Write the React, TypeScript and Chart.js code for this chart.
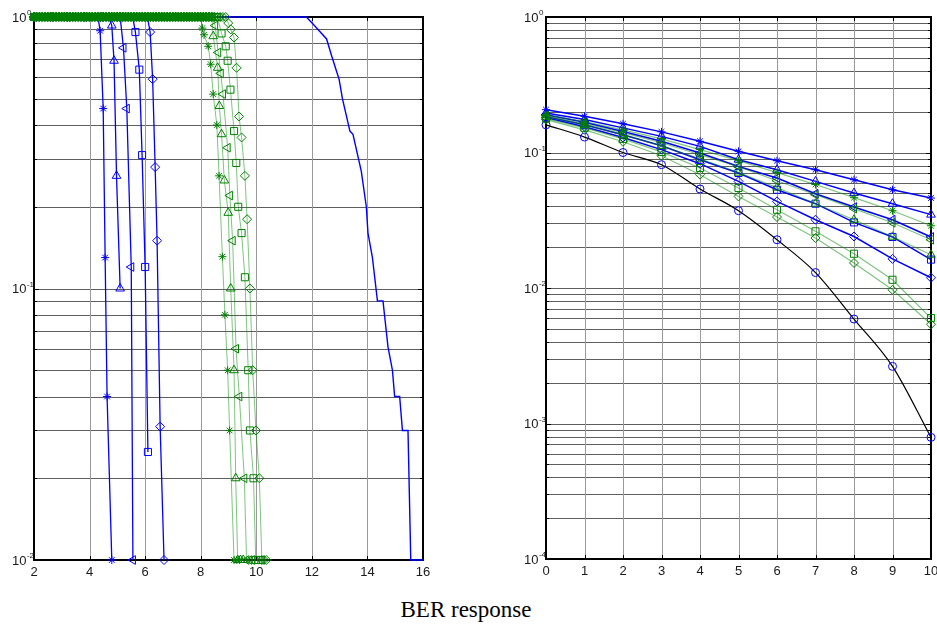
import React, { useEffect, useRef } from "react";
import { Chart, registerables } from "chart.js";

Chart.register(...registerables);

// ---------------- LEFT PANEL DATA ----------------
const leftXTicks = [2, 4, 6, 8, 10, 12, 14, 16];
const leftXLabels = ["2", "4", "6", "8", "10", "12", "14", "16"];
const leftYGrid = [0.01, 0.02, 0.03, 0.04, 0.05, 0.06, 0.07, 0.08, 0.09, 0.1, 0.2, 0.3, 0.4, 0.5, 0.6, 0.7, 0.8, 0.9, 1];
const leftDecades = [1, 0.1, 0.01];
const leftExps = ["0", "-1", "-2"];

// saturated (BER = 1) sampling shared by the green curves
const leftFlatSnr = [
  2.0, 2.1, 2.2, 2.3, 2.4, 2.5, 2.6, 2.7, 2.8, 2.9,
  3.0, 3.1, 3.2, 3.3, 3.4, 3.5, 3.6, 3.7, 3.8, 3.9,
  4.0, 4.1, 4.2, 4.3, 4.4, 4.5, 4.6, 4.7, 4.8, 4.9,
  5.0, 5.1, 5.2, 5.3, 5.4, 5.5, 5.6, 5.7, 5.8, 5.9,
  6.0, 6.1, 6.2, 6.3, 6.4, 6.5, 6.6, 6.7, 6.8, 6.9,
  7.0, 7.1, 7.2, 7.3, 7.4, 7.5, 7.6, 7.7, 7.8, 7.9,
];
const leftFlatBer = [
  1, 1, 1, 1, 1, 1, 1, 1, 1, 1,
  1, 1, 1, 1, 1, 1, 1, 1, 1, 1,
  1, 1, 1, 1, 1, 1, 1, 1, 1, 1,
  1, 1, 1, 1, 1, 1, 1, 1, 1, 1,
  1, 1, 1, 1, 1, 1, 1, 1, 1, 1,
  1, 1, 1, 1, 1, 1, 1, 1, 1, 1,
];

const gStarSnr = [8.0, 8.06, 8.12, 8.27, 8.36, 8.45, 8.58, 8.66, 8.78, 8.87, 8.97, 9.04, 9.2, 9.3, 9.4];
const gStarBer = [1, 0.91, 0.86, 0.78, 0.67, 0.52, 0.4, 0.26, 0.131, 0.08, 0.05, 0.03, 0.01, 0.01, 0.01];
const gTriSnr = [8.0, 8.1, 8.2, 8.3, 8.4, 8.45, 8.61, 8.67, 8.75, 8.85, 8.99, 9.08, 9.2, 9.26, 9.33, 9.43, 9.53];
const gTriBer = [1, 1, 1, 1, 1, 0.85, 0.65, 0.47, 0.37, 0.25, 0.19, 0.1, 0.05, 0.02, 0.01, 0.01, 0.01];
const gLeftSnr = [8.0, 8.1, 8.2, 8.3, 8.4, 8.52, 8.63, 8.72, 8.8, 8.97, 9.05, 9.15, 9.27, 9.39, 9.57, 9.65, 9.75, 9.85];
const gLeftBer = [1, 1, 1, 1, 1, 0.93, 0.74, 0.62, 0.52, 0.33, 0.22, 0.15, 0.06, 0.04, 0.02, 0.01, 0.01, 0.01];
const gSqSnr = [8.0, 8.1, 8.2, 8.3, 8.4, 8.5, 8.6, 8.75, 8.9, 8.97, 9.07, 9.2, 9.28, 9.35, 9.47, 9.59, 9.71, 9.77, 9.9, 9.98, 10.08, 10.18];
const gSqBer = [1, 1, 1, 1, 1, 1, 1, 0.87, 0.78, 0.69, 0.54, 0.38, 0.29, 0.2, 0.16, 0.11, 0.05, 0.03, 0.02, 0.01, 0.01, 0.01];
const gDiaSnr = [8.0, 8.1, 8.2, 8.3, 8.4, 8.5, 8.6, 8.7, 8.8, 8.9, 8.99, 9.08, 9.2, 9.29, 9.38, 9.47, 9.59, 9.67, 9.77, 9.87, 9.99, 10.11, 10.2, 10.28, 10.36];
const gDiaBer = [1, 1, 1, 1, 1, 1, 1, 1, 1, 1, 0.95, 0.9, 0.84, 0.65, 0.43, 0.36, 0.26, 0.18, 0.1, 0.05, 0.03, 0.02, 0.01, 0.01, 0.01];

const bStarSnr = [2, 2.6, 3.2, 3.8, 4.3, 4.38, 4.49, 4.56, 4.63, 4.8];
const bStarBer = [1, 1, 1, 1, 1, 0.89, 0.46, 0.13, 0.04, 0.01];
const bTriSnr = [2, 2.6, 3.2, 3.8, 4.4, 4.7, 4.8, 4.88, 4.97, 5.1];
const bTriBer = [1, 1, 1, 1, 1, 1, 0.93, 0.69, 0.26, 0.1];
const bLeftSnr = [2, 2.6, 3.2, 3.8, 4.4, 5.0, 5.1, 5.22, 5.34, 5.5, 5.56];
const bLeftBer = [1, 1, 1, 1, 1, 1, 1, 0.77, 0.46, 0.12, 0.01];
const bSqSnr = [2, 2.6, 3.2, 3.8, 4.4, 5.0, 5.55, 5.65, 5.79, 5.89, 6.0, 6.1];
const bSqBer = [1, 1, 1, 1, 1, 1, 1, 0.88, 0.64, 0.31, 0.12, 0.025];
const bDiaSnr = [2, 2.6, 3.2, 3.8, 4.4, 5.0, 5.6, 6.08, 6.18, 6.27, 6.36, 6.43, 6.54, 6.68];
const bDiaBer = [1, 1, 1, 1, 1, 1, 1, 1, 0.88, 0.59, 0.28, 0.15, 0.031, 0.01];

const bLineSnr = [2, 11.8, 12.05, 12.53, 12.71, 12.98, 13.1, 13.37, 13.48, 13.78, 13.96, 14.02, 14.18, 14.36, 14.56, 14.74, 14.9, 14.98, 15.16, 15.26, 15.46, 15.56, 16];
const bLineBer = [1, 1, 0.94, 0.83, 0.72, 0.59, 0.5, 0.38, 0.37, 0.27, 0.2, 0.16, 0.13, 0.09, 0.09, 0.061, 0.05, 0.04, 0.04, 0.03, 0.03, 0.01, 0.01];

// ---------------- RIGHT PANEL DATA ----------------
const rightXTicks = [0, 1, 2, 3, 4, 5, 6, 7, 8, 9, 10];
const rightXLabels = ["0", "1", "2", "3", "4", "5", "6", "7", "8", "9", "10"];
const rightYGrid = [
  0.0001, 0.0002, 0.0003, 0.0004, 0.0005, 0.0006, 0.0007, 0.0008, 0.0009,
  0.001, 0.002, 0.003, 0.004, 0.005, 0.006, 0.007, 0.008, 0.009,
  0.01, 0.02, 0.03, 0.04, 0.05, 0.06, 0.07, 0.08, 0.09,
  0.1, 0.2, 0.3, 0.4, 0.5, 0.6, 0.7, 0.8, 0.9, 1,
];
const rightDecades = [1, 0.1, 0.01, 0.001, 0.0001];
const rightExps = ["0", "-1", "-2", "-3", "-4"];

const snrRight = [0, 1, 2, 3, 4, 5, 6, 7, 8, 9, 10];
const rBlueStar = [0.207, 0.185, 0.163, 0.142, 0.121, 0.102, 0.087, 0.0746, 0.063, 0.0531, 0.0461];
const rBlueTri = [0.196, 0.175, 0.152, 0.1315, 0.111, 0.0885, 0.0746, 0.0612, 0.0502, 0.0419, 0.0348];
const rBlueLeft = [0.19, 0.167, 0.143, 0.121, 0.0992, 0.0789, 0.0648, 0.0496, 0.0396, 0.0319, 0.0238];
const rBlueSq = [0.184, 0.16, 0.135, 0.112, 0.0885, 0.0706, 0.0531, 0.0419, 0.0305, 0.0238, 0.0162];
const rBlueDia = [0.181, 0.155, 0.129, 0.105, 0.0827, 0.0612, 0.0436, 0.0319, 0.024, 0.0164, 0.0119];
const rGreenStar = [0.19, 0.169, 0.147, 0.126, 0.105, 0.087, 0.071, 0.058, 0.0464, 0.0372, 0.0288];
const rGreenTri = [0.184, 0.16, 0.135, 0.112, 0.09, 0.071, 0.055, 0.0419, 0.0319, 0.0239, 0.0176];
const rGreenLeft = [0.187, 0.163, 0.14, 0.118, 0.0963, 0.0785, 0.0619, 0.0488, 0.0385, 0.0303, 0.0227];
const rGreenSq = [0.178, 0.152, 0.126, 0.101, 0.0768, 0.0547, 0.0378, 0.0262, 0.0179, 0.0115, 0.006];
const rGreenDia = [0.175, 0.147, 0.12, 0.0947, 0.0686, 0.0474, 0.0334, 0.0234, 0.0153, 0.0097, 0.0054];
const rTheory = [0.16, 0.13, 0.1, 0.0813, 0.0538, 0.0372, 0.0227, 0.013, 0.0059, 0.00264, 0.00079];

// ---------------- helpers ----------------
const BLUE = "#0000ff";
const GREEN = "#008000";
const GREEN_LINE = "rgba(0,140,0,0.5)";
const FONT = '"Liberation Sans", Arial, Helvetica, sans-serif';

const pts = (xs: number[], ys: number[]) => xs.map((x, i) => ({ x, y: ys[i] }));

function series(
  xs: number[],
  ys: number[],
  style: any,
  markerColor: string,
  lineColor: string,
  lineWidth: number,
  radius: number,
  rotation = 0
) {
  return {
    data: pts(xs, ys),
    showLine: true,
    borderColor: lineColor,
    borderWidth: lineWidth,
    pointStyle: style,
    pointRadius: radius,
    pointRotation: rotation,
    pointBorderColor: markerColor,
    pointBackgroundColor: "rgba(0,0,0,0)",
    pointBorderWidth: 1,
    fill: false,
    tension: 0,
    clip: 8,
  };
}

function axesPlugin(cfg: {
  xTicks: number[];
  xLabels: string[];
  yGrid: number[];
  decades: number[];
  exps: string[];
}) {
  return {
    id: "matlabAxes",
    beforeDatasetsDraw(chart: any) {
      const { ctx, chartArea: a } = chart;
      const xs = chart.scales.x;
      const ys = chart.scales.y;
      const L = Math.round(a.left);
      const R = Math.round(a.right);
      const T = Math.round(a.top);
      const B = Math.round(a.bottom);
      ctx.save();
      ctx.lineWidth = 1;
      // horizontal grid
      ctx.strokeStyle = "#5e5e5e";
      ctx.beginPath();
      for (const v of cfg.yGrid) {
        const y = Math.round(ys.getPixelForValue(v)) + 0.5;
        ctx.moveTo(L, y);
        ctx.lineTo(R, y);
      }
      ctx.stroke();
      // vertical grid
      ctx.strokeStyle = "#9a9a9a";
      ctx.beginPath();
      for (const v of cfg.xTicks) {
        const x = Math.round(xs.getPixelForValue(v)) + 0.5;
        ctx.moveTo(x, T);
        ctx.lineTo(x, B);
      }
      ctx.stroke();
      // inward ticks
      ctx.strokeStyle = "#000";
      ctx.beginPath();
      for (const v of cfg.xTicks) {
        const x = Math.round(xs.getPixelForValue(v)) + 0.5;
        ctx.moveTo(x, B);
        ctx.lineTo(x, B - 4);
        ctx.moveTo(x, T);
        ctx.lineTo(x, T + 4);
      }
      for (const v of cfg.yGrid) {
        const y = Math.round(ys.getPixelForValue(v)) + 0.5;
        const len = cfg.decades.indexOf(v) >= 0 ? 5 : 3;
        ctx.moveTo(L, y);
        ctx.lineTo(L + len, y);
        ctx.moveTo(R, y);
        ctx.lineTo(R - len, y);
      }
      ctx.stroke();
      // box
      ctx.lineWidth = 2;
      ctx.strokeRect(L, T, R - L, B - T);
      // x labels
      ctx.fillStyle = "#1a1a1a";
      ctx.font = "13px " + FONT;
      ctx.textAlign = "center";
      ctx.textBaseline = "middle";
      cfg.xTicks.forEach((v, i) => {
        ctx.fillText(cfg.xLabels[i], xs.getPixelForValue(v), B + 12);
      });
      // y decade labels 10^n
      ctx.textAlign = "left";
      cfg.decades.forEach((v, i) => {
        const y = ys.getPixelForValue(v);
        const x0 = L - 22;
        ctx.font = "13px " + FONT;
        ctx.fillText("10", x0, y + 1);
        const w = ctx.measureText("10").width;
        ctx.font = "8px " + FONT;
        ctx.fillText(cfg.exps[i], x0 + w + 0.5, y - 4);
      });
      ctx.restore();
    },
  };
}

function baseOptions(
  xmin: number,
  xmax: number,
  ymin: number,
  ymax: number,
  yWidth: number,
  xHeight: number,
  padRight: number,
  padTop: number
): any {
  return {
    responsive: false,
    maintainAspectRatio: false,
    animation: false,
    events: [],
    layout: { padding: { left: 0, right: padRight, top: padTop, bottom: 0 } },
    plugins: { legend: { display: false }, tooltip: { enabled: false } },
    scales: {
      x: {
        type: "linear",
        min: xmin,
        max: xmax,
        grid: { display: false },
        border: { display: false },
        ticks: { display: false },
        afterFit: (s: any) => {
          s.height = xHeight;
        },
      },
      y: {
        type: "logarithmic",
        min: ymin,
        max: ymax,
        grid: { display: false },
        border: { display: false },
        ticks: { display: false },
        afterFit: (s: any) => {
          s.width = yWidth;
        },
      },
    },
  };
}

function leftConfig(): any {
  const g = (xs: number[], ys: number[], st: any, rad: number, rot = 0) =>
    series([...leftFlatSnr, ...xs], [...leftFlatBer, ...ys], st, GREEN, GREEN_LINE, 1, rad, rot);
  const b = (xs: number[], ys: number[], st: any, rad: number, rot = 0) =>
    series(xs, ys, st, BLUE, BLUE, 1.3, rad, rot);
  return {
    type: "line",
    data: {
      datasets: [
        g(gDiaSnr, gDiaBer, "rectRot", 4.5),
        g(gSqSnr, gSqBer, "rect", 5),
        g(gLeftSnr, gLeftBer, "triangle", 5, -90),
        g(gTriSnr, gTriBer, "triangle", 5),
        g(gStarSnr, gStarBer, "star", 4),
        series(bLineSnr, bLineBer, "circle", BLUE, BLUE, 1.4, 0),
        b(bDiaSnr, bDiaBer, "rectRot", 4.5),
        b(bSqSnr, bSqBer, "rect", 5),
        b(bLeftSnr, bLeftBer, "triangle", 5, -90),
        b(bTriSnr, bTriBer, "triangle", 5),
        b(bStarSnr, bStarBer, "star", 4),
      ],
    },
    options: baseOptions(2, 16, 0.01, 1, 34, 30, 47, 17),
    plugins: [
      axesPlugin({
        xTicks: leftXTicks,
        xLabels: leftXLabels,
        yGrid: leftYGrid,
        decades: leftDecades,
        exps: leftExps,
      }),
    ],
  };
}

function rightConfig(): any {
  const g = (ys: number[], st: any, rad: number, rot = 0) =>
    series(snrRight, ys, st, GREEN, GREEN_LINE, 1.2, rad, rot);
  const b = (ys: number[], st: any, rad: number, rot = 0) =>
    series(snrRight, ys, st, BLUE, BLUE, 1.5, rad, rot);
  const theory: any = series(snrRight, rTheory, "circle", BLUE, "#000000", 1.2, 4);
  theory.cubicInterpolationMode = "monotone";
  return {
    type: "line",
    data: {
      datasets: [
        g(rGreenDia, "rectRot", 4.5),
        g(rGreenSq, "rect", 5),
        g(rGreenLeft, "triangle", 5, -90),
        g(rGreenTri, "triangle", 5),
        g(rGreenStar, "star", 4),
        b(rBlueDia, "rectRot", 4.5),
        b(rBlueSq, "rect", 5),
        b(rBlueLeft, "triangle", 5, -90),
        b(rBlueTri, "triangle", 5),
        b(rBlueStar, "star", 4),
        theory,
      ],
    },
    options: baseOptions(0, 10, 0.0001, 1, 66, 31, 2, 17),
    plugins: [
      axesPlugin({
        xTicks: rightXTicks,
        xLabels: rightXLabels,
        yGrid: rightYGrid,
        decades: rightDecades,
        exps: rightExps,
      }),
    ],
  };
}

export default function App() {
  const leftRef = useRef<HTMLCanvasElement>(null);
  const rightRef = useRef<HTMLCanvasElement>(null);

  useEffect(() => {
    const c1 = new Chart(leftRef.current as HTMLCanvasElement, leftConfig());
    const c2 = new Chart(rightRef.current as HTMLCanvasElement, rightConfig());
    return () => {
      c1.destroy();
      c2.destroy();
    };
  }, []);

  return (
    <div
      style={{
        position: "absolute",
        left: 0,
        top: 0,
        width: 937,
        height: 626,
        background: "#ffffff",
        overflow: "hidden",
      }}
    >
      <canvas
        ref={leftRef}
        width={470}
        height={590}
        style={{ position: "absolute", left: 0, top: 0, width: 470, height: 590 }}
      />
      <canvas
        ref={rightRef}
        width={457}
        height={590}
        style={{ position: "absolute", left: 480, top: 0, width: 457, height: 590 }}
      />
      <div
        style={{
          position: "absolute",
          left: 0,
          top: 597,
          width: 932,
          textAlign: "center",
          fontFamily: '"Liberation Serif", "Times New Roman", serif',
          fontSize: 23,
          lineHeight: "26px",
          color: "#000",
        }}
      >
        BER response
      </div>
    </div>
  );
}
